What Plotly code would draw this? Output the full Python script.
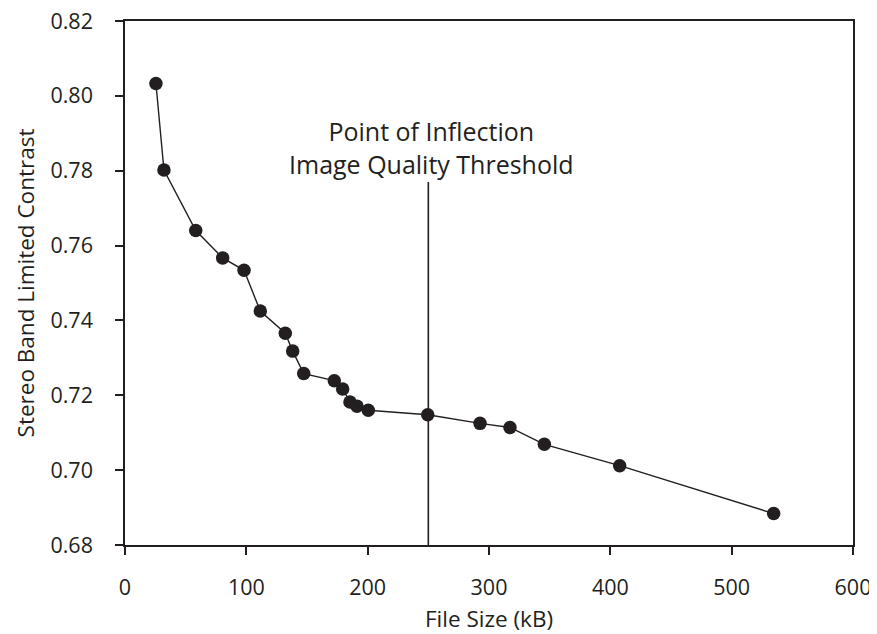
import plotly.graph_objects as go

file_size_kb = [25.5, 32.1, 58.3, 80.5, 98.1, 111.5, 132.1, 138.2, 147.3, 172.5, 179.4,
                185.4, 191.2, 200.5, 249.5, 292.6, 317.3, 345.6, 407.7, 534.6]
contrast = [0.8033, 0.7802, 0.7640, 0.7567, 0.7534, 0.7425, 0.7366, 0.7318, 0.7258, 0.7239,
            0.7217, 0.7182, 0.7171, 0.7160, 0.7148, 0.7125, 0.7114, 0.7069, 0.7012, 0.6884]
x_ticks = [0, 100, 200, 300, 400, 500, 600]
y_ticks = [0.68, 0.70, 0.72, 0.74, 0.76, 0.78, 0.80, 0.82]
threshold_x = 250
annotation_text = "Point of Inflection<br>Image Quality Threshold"

ink = "#231f20"
font_family = "Open Sans"

fig = go.Figure()
fig.add_trace(go.Scatter(
    x=file_size_kb, y=contrast, mode="lines+markers",
    line=dict(color=ink, width=1.4),
    marker=dict(color=ink, size=13.5),
    showlegend=False, hoverinfo="skip"))

fig.add_shape(type="line", xref="x", yref="y", x0=threshold_x, x1=threshold_x,
              y0=0.68, y1=0.777, line=dict(color=ink, width=1.6))

fig.add_annotation(x=252.5, y=0.7863, xref="x", yref="y", text=annotation_text,
                   showarrow=False, font=dict(family=font_family, size=25, color=ink),
                   align="center", xanchor="center", yanchor="middle")

# page body has an 8px default margin, so the figure is sized/offset to compensate
fig.update_layout(
    width=869, height=626,
    margin=dict(l=117, r=24, t=13, b=89),
    paper_bgcolor="white", plot_bgcolor="white",
    font=dict(family=font_family, size=20, color=ink),
)
fig.update_xaxes(range=[0, 600], tickvals=x_ticks, ticktext=[str(v) for v in x_ticks],
                 showgrid=False, zeroline=False, showline=True, linecolor=ink, linewidth=1.5,
                 mirror=True, ticks="outside", ticklen=8, tickwidth=1.5, tickcolor=ink,
                 tickfont=dict(size=21.5), ticklabelstandoff=14, automargin=False,
                 ticklabeloverflow="allow",
                 title=dict(text="File Size (kB)", font=dict(size=22.5), standoff=19))
fig.update_yaxes(range=[0.68, 0.82], tickvals=y_ticks, ticktext=[f"{v:.2f}" for v in y_ticks],
                 showgrid=False, zeroline=False, showline=True, linecolor=ink, linewidth=1.5,
                 mirror=True, ticks="outside", ticklen=8, tickwidth=1.5, tickcolor=ink,
                 tickfont=dict(size=21.5), ticklabelstandoff=18, automargin=False,
                 ticklabeloverflow="allow",
                 title=dict(text="Stereo Band Limited Contrast", font=dict(size=22.5), standoff=10))

fig.write_html("out.html")
